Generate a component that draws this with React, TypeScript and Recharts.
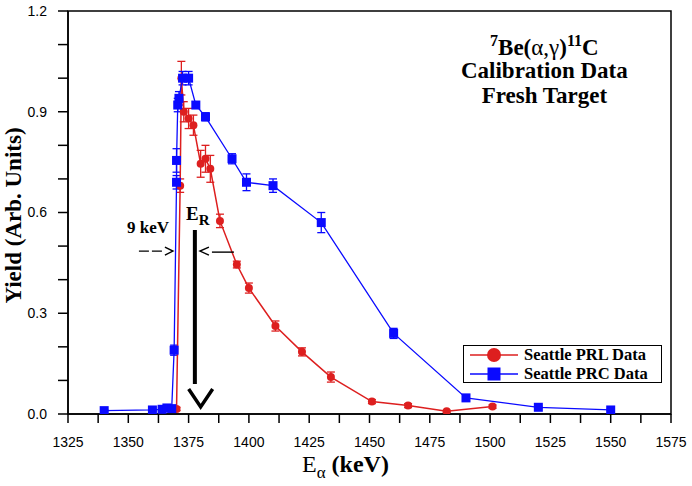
import React from "react";
import {
  ScatterChart,
  Scatter,
  XAxis,
  YAxis,
  ErrorBar,
  ReferenceArea,
  ReferenceDot,
  ReferenceLine,
} from "recharts";

// Seattle PRL data (red circles)
const prlEnergy = [1370, 1371.5, 1372, 1373, 1375, 1377, 1380, 1382, 1384, 1388, 1395, 1400, 1411, 1422, 1434, 1451, 1466, 1482, 1501];
const prlYield = [0.015, 0.68, 1.0, 0.9, 0.88, 0.86, 0.745, 0.76, 0.73, 0.575, 0.445, 0.375, 0.262, 0.185, 0.11, 0.037, 0.025, 0.008, 0.022];
const prlError = [0.005, 0.02, 0.05, 0.03, 0.03, 0.03, 0.04, 0.04, 0.04, 0.02, 0.01, 0.015, 0.015, 0.012, 0.015, 0.006, 0.006, 0.003, 0.005];

// Seattle PRC data (blue squares)
const prcEnergy = [1340, 1360, 1364, 1366, 1368, 1369, 1370, 1370, 1370.5, 1371, 1372.5, 1375, 1378, 1382, 1393, 1399, 1410, 1430, 1460, 1490, 1520, 1550];
const prcYield = [0.01, 0.012, 0.014, 0.018, 0.016, 0.19, 0.69, 0.755, 0.92, 0.94, 1.0, 1.0, 0.92, 0.885, 0.76, 0.69, 0.68, 0.57, 0.24, 0.048, 0.02, 0.012];
const prcError = [0.003, 0.003, 0.003, 0.003, 0.003, 0.015, 0.02, 0.035, 0.02, 0.02, 0.02, 0.02, 0.01, 0.012, 0.015, 0.025, 0.02, 0.03, 0.015, 0.004, 0.003, 0.003];

const xTicks = [1325, 1337.5, 1350, 1362.5, 1375, 1387.5, 1400, 1412.5, 1425, 1437.5, 1450, 1462.5, 1475, 1487.5, 1500, 1512.5, 1525, 1537.5, 1550, 1562.5, 1575];
const xLabels = [1325, 1350, 1375, 1400, 1425, 1450, 1475, 1500, 1525, 1550, 1575];
const yTicks = [0, 0.1, 0.2, 0.3, 0.4, 0.5, 0.6, 0.7, 0.8, 0.9, 1.0, 1.1, 1.2];
const yLabels = [0, 0.3, 0.6, 0.9, 1.2];

const RED = "#dd1f1f";
const BLUE = "#0a0aff";
const SERIF = "'Liberation Serif', 'Times New Roman', serif";
const SANS = "'Liberation Sans', Arial, sans-serif";

const prlData = prlEnergy.map((e, i) => ({ x: e, y: prlYield[i], err: prlError[i] }));
const prcData = prcEnergy.map((e, i) => ({ x: e, y: prcYield[i], err: prcError[i] }));

const XTick = (props: any) => {
  const { x, y, payload } = props;
  if (!xLabels.includes(payload.value)) return <g />;
  return (
    <text x={x} y={y} dy="0.71em" textAnchor="middle" fontFamily={SANS} fontSize={14} fill="#000">
      {payload.value}
    </text>
  );
};

const YTick = (props: any) => {
  const { x, y, payload } = props;
  const show = yLabels.some((v) => Math.abs(v - payload.value) < 1e-6);
  if (!show) return <g />;
  return (
    <text x={x} y={y} dy="0.35em" textAnchor="end" fontFamily={SANS} fontSize={14} fill="#000">
      {payload.value.toFixed(1)}
    </text>
  );
};

const YLabel = (props: any) => {
  const { viewBox } = props;
  const cx = viewBox.x + 13;
  const cy = viewBox.y + viewBox.height / 2 + 3;
  return (
    <text
      x={cx}
      y={cy}
      transform={`rotate(-90 ${cx} ${cy})`}
      textAnchor="middle"
      dominantBaseline="central"
      fontFamily={SERIF}
      fontWeight="bold"
      fontSize={23}
      fill="#000"
    >
      Yield (Arb. Units)
    </text>
  );
};

const XLabel = (props: any) => {
  const { viewBox } = props;
  return (
    <text x={viewBox.x + 234} y={viewBox.y + 58} fontFamily={SERIF} fontSize={24} fill="#000">
      <tspan>E</tspan>
      <tspan fontSize={17} dy={6}>α</tspan>
      <tspan fontWeight="bold" dy={-6}> (keV)</tspan>
    </text>
  );
};

const RedDot = (p: any) => <circle cx={p.cx} cy={p.cy} r={4} fill={RED} />;
const BlueSquare = (p: any) => <rect x={p.cx - 4.5} y={p.cy - 4.5} width={9} height={9} fill={BLUE} />;

const TitleMark = (p: any) => (
  <g fontFamily={SERIF} fontWeight="bold" fontSize={23} fill="#000" textAnchor="middle">
    <text x={p.cx} y={p.cy}>
      <tspan fontSize={16} dy={-9}>7</tspan>
      <tspan dy={9}>Be(</tspan>
      <tspan fontWeight="normal">α,γ</tspan>
      <tspan>)</tspan>
      <tspan fontSize={16} dy={-9}>11</tspan>
      <tspan dy={9}>C</tspan>
    </text>
    <text x={p.cx} y={p.cy + 23}>Calibration Data</text>
    <text x={p.cx} y={p.cy + 48}>Fresh Target</text>
  </g>
);

const NineKeV = (p: any) => (
  <text x={p.cx} y={p.cy} textAnchor="middle" fontFamily={SERIF} fontWeight="bold" fontSize={17} fill="#000">
    9 keV
  </text>
);

const ERLabel = (p: any) => (
  <text x={p.cx} y={p.cy} fontFamily={SERIF} fontWeight="bold" fontSize={19} fill="#000">
    <tspan>E</tspan>
    <tspan fontSize={15} dy={5}>R</tspan>
  </text>
);

const RightArrow = (p: any) => (
  <g stroke="#000" strokeWidth={1.4} fill="none">
    <line x1={p.cx - 34} y1={p.cy} x2={p.cx - 10} y2={p.cy} strokeDasharray="10 3" />
    <polyline points={`${p.cx - 8},${p.cy - 4} ${p.cx},${p.cy} ${p.cx - 8},${p.cy + 4}`} />
  </g>
);

const LeftArrow = (p: any) => (
  <g stroke="#000" strokeWidth={1.4} fill="none">
    <polyline points={`${p.cx + 9},${p.cy - 4} ${p.cx},${p.cy} ${p.cx + 9},${p.cy + 4}`} />
    <line x1={p.cx + 12} y1={p.cy + 1} x2={p.cx + 34} y2={p.cy + 1} />
  </g>
);

const Chevron = (p: any) => (
  <polyline
    points={`${p.cx - 12},${p.cy - 18} ${p.cx},${p.cy} ${p.cx + 12},${p.cy - 18}`}
    stroke="#000"
    strokeWidth={3.5}
    fill="none"
  />
);

const LegendRow = ({ color, square, label, top }: any) => (
  <div style={{ position: "absolute", left: 5, top, height: 18, display: "flex", alignItems: "center" }}>
    <svg width={50} height={18}>
      <line x1={1} y1={9} x2={49} y2={9} stroke={color} strokeWidth={1.5} />
      {square ? (
        <rect x={18.5} y={2.5} width={13} height={13} fill={color} />
      ) : (
        <circle cx={25} cy={9} r={7} fill={color} />
      )}
    </svg>
    <span style={{ marginLeft: 5, lineHeight: "18px" }}>{label}</span>
  </div>
);

export default function App() {
  return (
    <div style={{ position: "absolute", left: 0, top: 0, width: 692, height: 486, background: "#fff" }}>
      <ScatterChart width={692} height={486} margin={{ top: 11, right: 21, bottom: 0, left: 0 }}>
        <XAxis
          type="number"
          dataKey="x"
          domain={[1325, 1575]}
          ticks={xTicks}
          interval={0}
          allowDataOverflow
          height={72}
          tickSize={9}
          tickMargin={14}
          tick={<XTick />}
          stroke="#000"
          strokeWidth={1.5}
          label={{ content: XLabel }}
        />
        <YAxis
          type="number"
          dataKey="y"
          domain={[0, 1.2]}
          ticks={yTicks}
          interval={0}
          allowDataOverflow
          width={68}
          tickSize={10}
          tickMargin={11}
          tick={<YTick />}
          stroke="#000"
          strokeWidth={1.5}
          label={{ content: YLabel }}
        />
        <ReferenceArea x1={1325} x2={1575} y1={0} y2={1.2} fill="none" stroke="#000" strokeWidth={1.5} />

        <Scatter
          data={prlData}
          fill={RED}
          line={{ stroke: RED, strokeWidth: 1.5 }}
          lineType="joint"
          shape={RedDot}
          isAnimationActive={false}
        >
          <ErrorBar dataKey="err" direction="y" width={4} stroke={RED} strokeWidth={1.3} />
        </Scatter>
        <Scatter
          data={prcData}
          fill={BLUE}
          line={{ stroke: BLUE, strokeWidth: 1.3 }}
          lineType="joint"
          shape={BlueSquare}
          isAnimationActive={false}
        >
          <ErrorBar dataKey="err" direction="y" width={4} stroke={BLUE} strokeWidth={1.3} />
        </Scatter>

        <ReferenceLine
          segment={[
            { x: 1377.6, y: 0.548 },
            { x: 1377.6, y: 0.089 },
          ]}
          stroke="#000"
          strokeWidth={4}
        />
        <ReferenceDot x={1380} y={0.021} r={0} shape={Chevron} />
        <ReferenceDot x={1358.2} y={0.539} r={0} shape={NineKeV} />
        <ReferenceDot x={1368.5} y={0.485} r={0} shape={RightArrow} />
        <ReferenceDot x={1379.7} y={0.485} r={0} shape={LeftArrow} />
        <ReferenceDot x={1373.9} y={0.578} r={0} shape={ERLabel} />
        <ReferenceDot x={1522.5} y={1.069} r={0} shape={TitleMark} />
      </ScatterChart>

      <div
        style={{
          position: "absolute",
          left: 463,
          top: 345,
          width: 199,
          height: 38,
          border: "1.5px solid #000",
          boxSizing: "border-box",
          background: "#fff",
          fontFamily: SERIF,
          fontWeight: "bold",
          fontSize: 16.5,
          color: "#000",
        }}
      >
        <LegendRow color={RED} label="Seattle PRL Data" top={-0.5} />
        <LegendRow color={BLUE} square label="Seattle PRC Data" top={18.5} />
      </div>
    </div>
  );
}
